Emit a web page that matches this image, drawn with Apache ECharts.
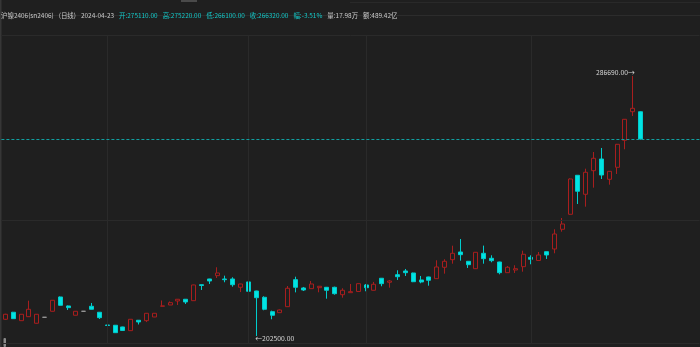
<!DOCTYPE html>
<html><head><meta charset="utf-8">
<script src="https://cdn.jsdelivr.net/npm/echarts@6/dist/echarts.min.js"></script>
<style>html,body{margin:0;padding:0;background:#1f1f1f;}#c{width:700px;height:347px;}</style>
</head><body><div id="c"></div>
<script>
const dates = [
'2023-12-19','2023-12-20','2023-12-21','2023-12-22','2023-12-25','2023-12-26','2023-12-27','2023-12-28','2023-12-29',
'2024-01-02','2024-01-03','2024-01-04','2024-01-05','2024-01-08','2024-01-09','2024-01-10','2024-01-11','2024-01-12',
'2024-01-15','2024-01-16','2024-01-17','2024-01-18','2024-01-19','2024-01-22','2024-01-23','2024-01-24','2024-01-25',
'2024-01-26','2024-01-29','2024-01-30','2024-01-31',
'2024-02-01','2024-02-02','2024-02-05','2024-02-06','2024-02-07','2024-02-08','2024-02-19','2024-02-20','2024-02-21',
'2024-02-22','2024-02-23','2024-02-26','2024-02-27','2024-02-28','2024-02-29',
'2024-03-01','2024-03-04','2024-03-05','2024-03-06','2024-03-07','2024-03-08','2024-03-11','2024-03-12','2024-03-13',
'2024-03-14','2024-03-15','2024-03-18','2024-03-19','2024-03-20','2024-03-21','2024-03-22','2024-03-25','2024-03-26',
'2024-03-27','2024-03-28','2024-03-29',
'2024-04-01','2024-04-02','2024-04-03','2024-04-08','2024-04-09','2024-04-10','2024-04-11','2024-04-12','2024-04-15',
'2024-04-16','2024-04-17','2024-04-18','2024-04-19','2024-04-22','2024-04-23'];

const opens = [207910,210180,207460,208750,206620,208560,210500,215130,212220,209210,210500,212120,210180,206060,205970,205420,204220,207590,207460,208650,212120,212540,213840,214390,213930,219110,220960,222030,220960,220960,218270,220010,217070,215030,210370,210050,211990,220730,218050,217820,218140,218270,218270,215870,216520,216910,219020,217300,221190,219890,222350,223550,222900,220640,221610,221060,224750,227210,229700,226690,224290,229280,227660,226460,223000,223870,224940,227980,226950,229800,230670,237050,241910,254540,248390,256030,259810,253240,257130,265870,275130,275110];
const closes = [209530,208110,209530,211150,209530,208560,214060,212440,211670,210500,210500,211150,208430,205900,203570,204280,207910,207040,209850,209850,212250,213290,214390,213510,219020,218850,220310,222900,220730,219110,219340,216980,214900,211150,209210,210920,217950,218270,217400,219340,218600,217300,216200,217300,216850,219440,218140,219240,219440,220310,221700,223000,220080,219990,220540,224840,226690,229280,228830,225590,229600,227530,226890,223000,224750,224290,228960,227340,228730,228730,235530,238770,253340,249360,255510,260040,254630,255830,264570,272670,276230,266320];
const lows = [207700,208000,207400,208700,206500,208500,210450,212350,210920,209150,210450,211100,208010,205850,203500,204200,204150,206230,207000,208600,212050,212500,212540,212860,213880,217400,219340,221280,219890,218470,216720,216900,202500,210830,207910,210000,211900,216630,217070,217750,216650,214580,215870,214900,216450,216800,216980,217250,218600,218140,220640,221930,219950,219570,218790,220950,222680,225910,226890,224520,224200,225910,226370,222480,222950,222900,223320,225720,226900,227440,229280,236270,241800,245240,244370,250520,253340,251490,254960,262960,273740,266100];
const highs = [209700,210300,209600,213930,209600,208620,214100,215290,212380,210550,210550,213190,210220,207360,206050,205500,207950,207650,209900,209900,214000,213670,214480,214450,219110,219160,221020,224750,222030,221510,219400,220400,217150,215360,210700,211080,218690,221700,218370,220310,218690,218370,218470,217950,219340,219500,219340,220010,221280,220640,223780,224200,223000,221930,221700,227010,227340,231740,233910,226750,229700,231770,228630,226550,225170,225400,230120,228630,229700,229860,237050,240710,253500,254600,256670,262080,263380,255900,264700,272770,286690,275220];

const gridLevels = [200000, 240000, 300000];
const dividerDates = ['2024-01-08', '2024-02-01', '2024-03-01', '2024-04-01'];

const headerTitle = '沪镍2406(sn2406)';
const headerPeriod = '(日线)';
const headerDate = '2024-04-23';
const headerQuote = ['开:275110.00', '高:275220.00', '低:266100.00', '收:266320.00', '幅:-3.51%'];
const headerVolume = '量:17.98万';
const headerAmount = '额:489.42亿';

const padCount = 7;
const cats = dates.concat(Array.from({length: padCount}, (_, i) => 'pad' + i));
const kdata = dates.map((d, i) => [opens[i], closes[i], lows[i], highs[i]]);

let hiIdx = 0, loIdx = 0;
highs.forEach((v, i) => { if (v > highs[hiIdx]) hiIdx = i; });
lows.forEach((v, i) => { if (v < lows[loIdx]) loIdx = i; });
const lastClose = closes[closes.length - 1];

const FONT = 'Noto Sans CJK SC';
const chart = echarts.init(document.getElementById('c'), null, {renderer: 'canvas'});

const gridLineData = gridLevels.map(v => ({yAxis: v})).concat(dividerDates.map(d => ({xAxis: d})));
const CLOSE_LINE = '#12a0a0';

chart.setOption({
  animation: false,
  backgroundColor: '#1f1f1f',
  title: {
    left: -4, top: 2, itemGap: 0,
    text: '{w|' + headerTitle + '} {w|' + headerPeriod + '} {w|' + headerDate + '} ' +
          headerQuote.map(s => '{c|' + s + '}').join(' ') + ' {w|' + headerVolume + '} {w|' + headerAmount + '}',
    textStyle: {
      rich: {
        w: {color: '#cacaca', fontSize: 6.45, fontFamily: FONT, fontWeight: 'normal'},
        c: {color: '#14c8c8', fontSize: 6.45, fontFamily: FONT, fontWeight: 'normal'}
      }
    }
  },
  graphic: [
    {type: 'rect', shape: {x: 0, y: 15, width: 700, height: 1}, style: {fill: '#2c2c2c'}, silent: true},
    {type: 'rect', shape: {x: 350, y: 2, width: 350, height: 1}, style: {fill: '#292929'}, silent: true},
    {type: 'rect', shape: {x: 0, y: 0, width: 1.5, height: 347}, style: {fill: '#363636'}, silent: true},
    {type: 'rect', shape: {x: 3.5, y: 338, width: 2.5, height: 9, r: 1}, style: {fill: '#8a8a8a'}, silent: true},
    {type: 'rect', shape: {x: 181, y: 0, width: 16, height: 2}, style: {fill: '#4a4a4a'}, silent: true}
  ],
  grid: {left: 1.4, right: 0.5, top: 34.9, bottom: 3.3, containLabel: false},
  xAxis: {
    type: 'category', data: cats, boundaryGap: true,
    axisLine: {show: false}, axisTick: {show: false}, axisLabel: {show: false}, splitLine: {show: false}
  },
  yAxis: {
    type: 'value', min: 200000, max: 300000, scale: true,
    axisLine: {show: false}, axisTick: {show: false}, axisLabel: {show: false}, splitLine: {show: false}
  },
  series: [{
    type: 'line', data: [], silent: true, z: 1,
    markLine: {
      silent: true, symbol: ['none', 'none'], label: {show: false}, animation: false,
      lineStyle: {color: '#2a2a2a', width: 1, type: 'solid'},
      data: gridLineData
    }
  }, {
    type: 'line', data: [], silent: true, z: 3, color: CLOSE_LINE,
    markLine: {
      silent: true, symbol: ['none', 'none'], label: {show: false}, animation: false,
      lineStyle: {color: CLOSE_LINE, width: 1, type: [3, 2], opacity: 1},
      data: [{yAxis: lastClose}]
    }
  }, {
    type: 'candlestick',
    data: kdata,
    barWidth: 4.5, z: 2,
    itemStyle: {
      color: '#1f1f1f', color0: '#00e4e4',
      borderColor: '#a81e1e', borderColor0: '#00cccc',
      borderColorDoji: '#9a9a9a', borderWidth: 1
    },
    markPoint: {
      silent: true, symbol: 'circle', symbolSize: 0, animation: false,
      data: [
        {coord: [dates[hiIdx], highs[hiIdx]], value: highs[hiIdx],
          label: {show: true, position: 'left', distance: 0, offset: [2, -4],
            formatter: highs[hiIdx].toFixed(2) + '→', color: '#d6d6d6', fontSize: 6.8, fontFamily: FONT}},
        {coord: [dates[loIdx], lows[loIdx]], value: lows[loIdx],
          label: {show: true, position: 'right', distance: 0, offset: [-1, 2.5],
            formatter: '←' + lows[loIdx].toFixed(2), color: '#d6d6d6', fontSize: 6.8, fontFamily: FONT}}
      ]
    }
  }]
});
</script></body></html>
